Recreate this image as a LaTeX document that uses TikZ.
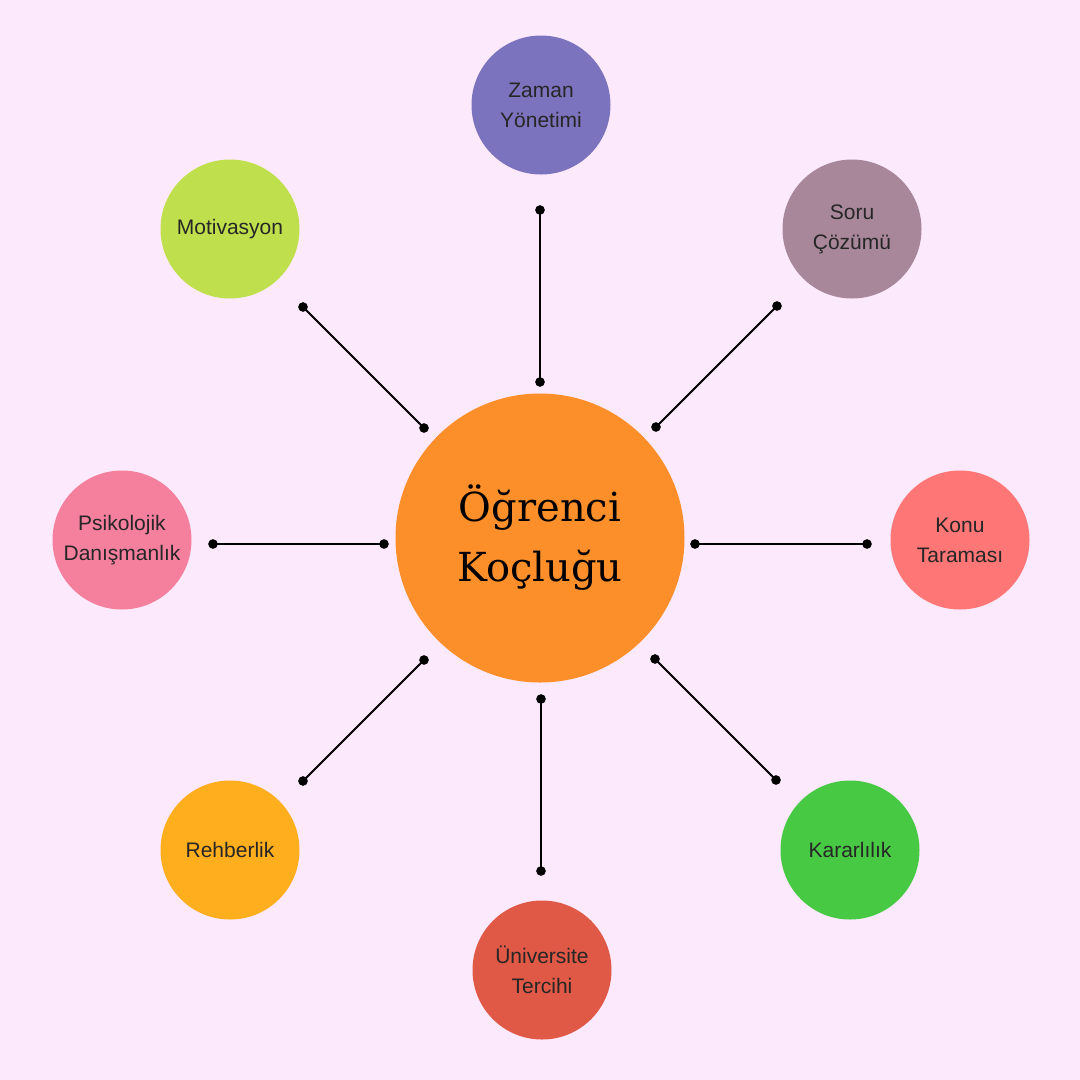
\documentclass[tikz,border=0pt]{standalone}
\usepackage{fontspec}
\setmainfont{Liberation Sans}
\newfontfamily\titlefont{DejaVu Serif}
\usetikzlibrary{positioning,arrows.meta}

\definecolor{bgpink}{HTML}{FCE9FC}
\definecolor{hub}{HTML}{FC8F2A}
\definecolor{czaman}{HTML}{7B73BD}
\definecolor{csoru}{HTML}{A8879A}
\definecolor{ckonu}{HTML}{FF7676}
\definecolor{ckarar}{HTML}{48C944}
\definecolor{cuni}{HTML}{E05846}
\definecolor{crehber}{HTML}{FFAE1E}
\definecolor{cpsiko}{HTML}{F5809E}
\definecolor{cmotiv}{HTML}{BFDF4C}

\tikzset{
  topic/.style={circle, minimum size=139pt, inner sep=0pt, align=center,
    text=black!85, font=\fontsize{21}{30}\selectfont},
  spoke/.style={line width=2pt, black, {Circle[length=9.5pt]}-{Circle[length=9.5pt]},
    shorten <=-4.75pt, shorten >=-4.75pt},
}

\begin{document}
\begin{tikzpicture}[x=1pt,y=-1pt]
  \fill[bgpink] (0,0) rectangle (1080,1080);
  \useasboundingbox (0,0) rectangle (1080,1080);

  % hub
  \node (hub)[circle, fill=hub, minimum size=289pt, inner sep=0pt, align=center,
    font=\titlefont\fontsize{40}{60}\selectfont] at (540,538) {Öğrenci\\Koçluğu};

  % topics
  \node (zaman)[topic, fill=czaman] at (541,105) {Zaman\\Yönetimi};
  \node (soru)[topic, fill=csoru] at (852,229) {Soru\\Çözümü};
  \node (konu)[topic, fill=ckonu] at (960,540) {Konu\\Taraması};
  \node (karar)[topic, fill=ckarar] at (850,850) {Kararlılık};
  \node (uni)[topic, fill=cuni] at (542,970) {Üniversite\\Tercihi};
  \node (rehber)[topic, fill=crehber] at (230,850) {Rehberlik};
  \node (psiko)[topic, fill=cpsiko] at (122,540) {Psikolojik\\Danışmanlık};
  \node (motiv)[topic, fill=cmotiv] at (230,229) {Motivasyon};

  % spoke ends
  \coordinate (zaman-a) at (540,210);  \coordinate (zaman-b) at (540,382);
  \coordinate (soru-a) at (777,306);   \coordinate (soru-b) at (656,427);
  \coordinate (konu-a) at (867,544);   \coordinate (konu-b) at (695,544);
  \coordinate (karar-a) at (776,780);  \coordinate (karar-b) at (655,659);
  \coordinate (uni-a) at (541,871);    \coordinate (uni-b) at (541,699);
  \coordinate (rehber-a) at (303,781); \coordinate (rehber-b) at (424,660);
  \coordinate (psiko-a) at (213,544);  \coordinate (psiko-b) at (384,544);
  \coordinate (motiv-a) at (303,307);  \coordinate (motiv-b) at (424,428);

  \foreach \t in {zaman,soru,konu,karar,uni,rehber,psiko,motiv}
    \draw[spoke] (\t-a) -- (\t-b);

\end{tikzpicture}
\end{document}
